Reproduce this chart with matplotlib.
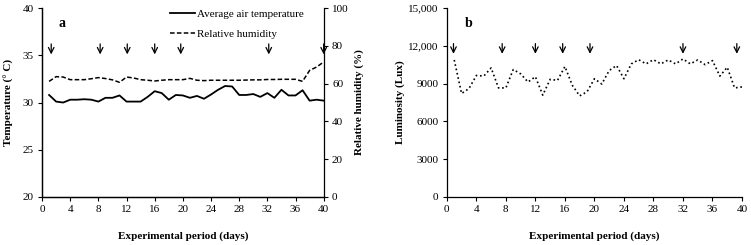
import matplotlib.pyplot as plt

plt.rcParams['font.family'] = ['Liberation Serif', 'DejaVu Serif']

days = list(range(1, 41))
air_temp = [30.8, 30.1, 30.0, 30.3, 30.3, 30.35, 30.3, 30.1, 30.5, 30.5,
            30.75, 30.1, 30.1, 30.1, 30.6, 31.2, 31.0, 30.3, 30.8, 30.75,
            30.5, 30.7, 30.4, 30.85, 31.35, 31.75, 31.7, 30.8, 30.8, 30.9,
            30.6, 31.0, 30.5, 31.35, 30.75, 30.75, 31.3, 30.2, 30.3, 30.2]
humidity = [61.2, 63.7, 63.5, 62.1, 62.1, 62.1, 62.6, 63.2, 62.7, 62.0,
            60.7, 63.5, 63.0, 62.1, 61.8, 61.4, 61.8, 62.1, 62.1, 62.1,
            62.8, 61.8, 61.6, 61.8, 61.8, 61.8, 61.8, 61.8, 61.9, 62.0,
            62.0, 62.2, 62.2, 62.3, 62.3, 62.3, 61.2, 67.0, 68.8, 71.5]
lux = [10880, 8220, 8610, 9650, 9600, 10250, 8660, 8660, 10120, 9780,
       9130, 9550, 8090, 9340, 9260, 10360, 8870, 8030, 8350, 9390,
       8970, 10040, 10440, 9390, 10570, 10900, 10570, 10900, 10570, 10880,
       10570, 10960, 10570, 10880, 10510, 10830, 9600, 10300, 8660, 8740]

arrows_a = [1.3, 8.25, 12.1, 16.0, 19.7, 32.2, 40.0]
arrows_b = [0.9, 7.5, 12.0, 15.7, 19.4, 32.0, 39.3]

lux_ticks = [0, 3000, 6000, 9000, 12000, 15000]
lux_labels = ['0', '3000', '6000', '9000', '12,000', '15,000']

fig = plt.figure(figsize=(7.51, 2.45), dpi=100)
ax1 = fig.add_axes([0.056, 0.196, 0.375, 0.771])
ax2 = ax1.twinx()
ax3 = fig.add_axes([0.595, 0.196, 0.393, 0.771])

fs = 8
ln1, = ax1.plot(days, air_temp, '-', color='black', lw=1.3, label='Average air temperature')
ln2, = ax2.plot(days, humidity, '--', color='black', lw=1.1, dashes=(3, 1.5), label='Relative humidity')
ax1.set_xlim(0, 40)
ax1.set_ylim(20, 40)
ax2.set_ylim(0, 100)
ax1.set_xticks(range(0, 41, 4))
ax1.set_yticks(range(20, 41, 5))
ax2.set_yticks(range(0, 101, 20))
ax1.set_xlabel('Experimental period (days)', fontsize=fs, fontweight='bold', labelpad=12)
ax1.set_ylabel('Temperature (° C)', fontsize=fs, fontweight='bold', labelpad=6)
ax2.set_ylabel('Relative humidity (%)', fontsize=fs, fontweight='bold', labelpad=4)
ax1.text(0.06, 0.955, 'a', transform=ax1.transAxes, fontsize=10, fontweight='bold', va='top')
leg = ax1.legend([ln1, ln2], ['Average air temperature', 'Relative humidity'],
                 loc='upper left', bbox_to_anchor=(0.42, 1.045), frameon=False,
                 fontsize=fs, handlelength=2.2, handletextpad=0.2, labelspacing=0.9)

for d in arrows_a:
    ax1.annotate('', xy=(d, 34.8), xytext=(d, 36.5),
                 arrowprops=dict(arrowstyle='->', color='black', lw=0.9), annotation_clip=False)

ax3.plot(days, lux, ':', color='black', lw=1.2)
ax3.set_xlim(0, 40)
ax3.set_ylim(0, 15000)
ax3.set_xticks(range(0, 41, 4))
ax3.set_yticks(lux_ticks)
ax3.set_yticklabels(lux_labels)
ax3.set_xlabel('Experimental period (days)', fontsize=fs, fontweight='bold', labelpad=12)
ax3.set_ylabel('Luminosity (Lux)', fontsize=fs, fontweight='bold', labelpad=2)
ax3.text(0.06, 0.955, 'b', transform=ax3.transAxes, fontsize=10, fontweight='bold', va='top')
for d in arrows_b:
    ax3.annotate('', xy=(d, 11150), xytext=(d, 12400),
                 arrowprops=dict(arrowstyle='->', color='black', lw=0.9), annotation_clip=False)

for ax in (ax1, ax2, ax3):
    ax.spines['top'].set_visible(False)
    ax.tick_params(labelsize=fs, direction='out', length=3, width=0.8, pad=3)
    for s in ax.spines.values():
        s.set_linewidth(0.9)
ax1.spines['right'].set_visible(False)
ax3.spines['right'].set_visible(False)

fig.savefig('out.png', dpi=100)
